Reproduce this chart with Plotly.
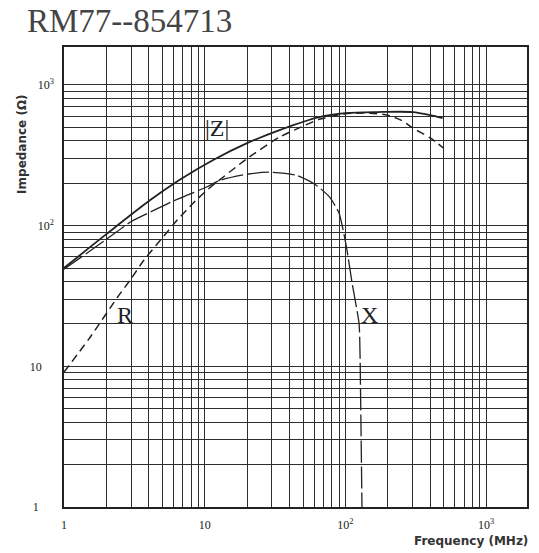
import plotly.graph_objects as go
import numpy as np

# ---- data ----
z_freq = [1, 2, 4.1, 6.6, 11.4, 20, 34, 65, 100, 170, 300, 400, 490]
z_vals = [50, 87, 152, 211, 292, 386, 478, 591, 631, 642, 642, 611, 582]

r_freq = [1, 1.5, 2.4, 3, 3.7, 4.85, 6.4, 8.3, 10.4, 20, 34, 50, 65, 100, 150, 200, 250, 300, 400, 500]
r_vals = [9.1, 15.6, 31, 42, 57, 79, 110, 145, 179, 300, 426, 510, 570, 625, 630, 610, 560, 495, 420, 355]

x_freq = [1, 2, 3, 4.6, 6, 7.9, 10.4, 12.8, 20, 29, 45, 62, 77, 90, 101, 112, 125, 128, 131]
x_vals = [49, 80, 107, 132, 150, 168, 189, 210, 232, 240, 228, 194, 160, 123, 73, 38, 20, 6.5, 1]

x_grid = [m * 10 ** e for e in range(0, 4) for m in range(1, 10) if m * 10 ** e <= 1950]
y_grid = [m * 10 ** e for e in range(0, 4) for m in range(1, 10) if m * 10 ** e <= 1850]
NB = "\u00a0"
x_labels = {1: "1", 10: "10", 100: "10<sup>2</sup>", 1000: "10<sup>3</sup>"}
y_labels = {1: "1" + NB * 5, 10: "10" + NB * 4, 100: "10<sup>2</sup>", 1000: "10<sup>3</sup>"}

title_text = "RM77--854713"

fig = go.Figure()
fig.add_trace(go.Scatter(x=z_freq, y=z_vals, mode="lines", name="|Z|",
                         line=dict(color="#222", width=1.8, shape="spline", smoothing=0.8)))
fig.add_trace(go.Scatter(x=r_freq, y=r_vals, mode="lines", name="R",
                         line=dict(color="#222", width=1.5, dash="8px,5px", shape="spline", smoothing=0.6)))
fig.add_trace(go.Scatter(x=x_freq, y=x_vals, mode="lines", name="X",
                         line=dict(color="#222", width=1.3, dash="22px,4px", shape="spline", smoothing=0.5)))

grid_color = "#2e2e2e"
fig.update_xaxes(type="log", range=[0, 3.29], tickmode="array", tickvals=x_grid,
                 ticktext=[x_labels.get(v, "") for v in x_grid],
                 showgrid=True, gridcolor=grid_color, gridwidth=1.2,
                 showline=True, linecolor="#222", linewidth=1.5, mirror=True,
                 ticks="", ticklabelstandoff=6, zeroline=False,
                 tickfont=dict(family="Liberation Serif", size=12, color="#222"))
fig.update_yaxes(type="log", range=[0, 3.27], tickmode="array", tickvals=y_grid,
                 ticktext=[y_labels.get(v, "") for v in y_grid],
                 showgrid=True, gridcolor=grid_color, gridwidth=1.2,
                 showline=True, linecolor="#222", linewidth=1.5, mirror=True,
                 ticks="", ticklabelstandoff=6, zeroline=False,
                 tickfont=dict(family="Liberation Serif", size=12, color="#222"))

ann = [
    dict(text=title_text, xref="paper", yref="paper", x=-0.084, y=1.057, xanchor="left", yanchor="middle",
         showarrow=False, font=dict(family="Liberation Serif", size=33, color="#444")),
    dict(text="Impedance (Ω)", xref="paper", yref="paper", x=-0.091, y=0.789, textangle=-90,
         xanchor="center", yanchor="middle", showarrow=False,
         font=dict(family="DejaVu Sans", size=12, color="#333", weight="bold")),
    dict(text="Frequency (MHz)", xref="paper", yref="paper", x=0.880, y=-0.073,
         xanchor="center", yanchor="middle", showarrow=False,
         font=dict(family="DejaVu Sans", size=12, color="#333", weight="bold")),
    dict(text="|Z|", x=np.log10(12.3), y=np.log10(494), showarrow=False,
         font=dict(family="Liberation Serif", size=24, color="#222")),
    dict(text="R", x=np.log10(2.7), y=np.log10(23), showarrow=False,
         font=dict(family="Liberation Serif", size=24, color="#222")),
    dict(text="X", x=np.log10(147), y=np.log10(23), showarrow=False,
         font=dict(family="Liberation Serif", size=24, color="#222")),
]
fig.update_layout(width=539, height=553, margin=dict(l=64, r=10, t=47, b=46),
                  plot_bgcolor="white", paper_bgcolor="white", showlegend=False,
                  annotations=ann)
fig.write_html("out.html", config={"displayModeBar": False},
               post_script="document.body.style.margin='0';document.body.style.padding='0';")
